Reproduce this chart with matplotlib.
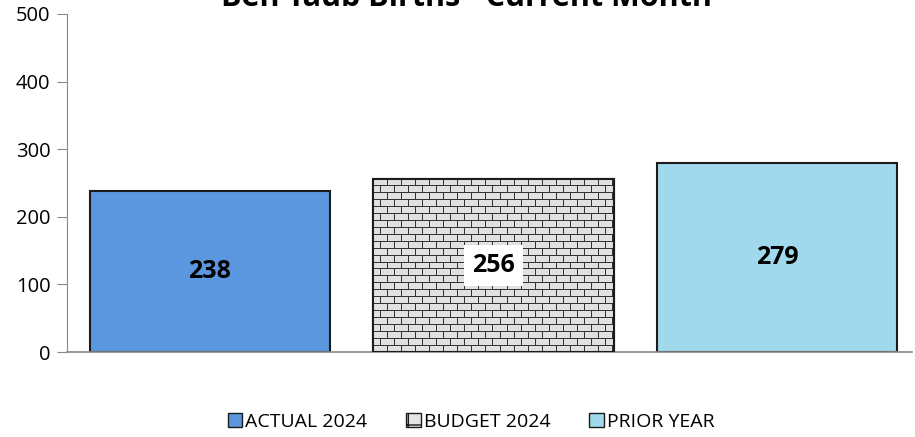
import numpy as np
import matplotlib
matplotlib.use('Agg')
import matplotlib.pyplot as plt
from matplotlib.patches import Patch

plt.rcParams['font.family'] = ['Open Sans', 'DejaVu Sans']

categorias = ['ACTUAL 2024', 'BUDGET 2024', 'PRIOR YEAR']
valores = [238, 256, 279]
colores = ['#5B97DF', '#E4E4E4', '#A0D9EB']
titulo = 'Ben Taub Births - Current Month'

fig = plt.figure(figsize=(9.15, 4.37), dpi=100)
ax = fig.add_axes([0.0732, 0.1945, 0.9238, 0.7735])

x = np.arange(len(valores))
ancho = 0.847
barras = ax.bar(x, valores, width=ancho, color=colores, edgecolor='#1b1b1b', linewidth=1.5, zorder=2)

# textura de ladrillo para la barra de presupuesto
b = barras[1]
ancho_px, alto_px = 240, 175
tex = np.full((alto_px, ancho_px), 0.88)
fila = 7
for r in range(alto_px):
	if r % fila == 0:
		tex[r, :] = 0.2
	else:
		desp = 0 if (r // fila) % 2 == 0 else 7
		for c in range(ancho_px):
			if (c + desp) % 14 == 0:
				tex[r, c] = 0.2
img = ax.imshow(tex, cmap='gray', vmin=0, vmax=1, aspect='auto', interpolation='nearest',
	extent=(b.get_x(), b.get_x() + b.get_width(), 0, b.get_height()), zorder=2.5)
img.set_clip_path(b)
ax.bar(x[1], valores[1], width=ancho, color='none', edgecolor='#1b1b1b', linewidth=1.5, zorder=3)

for i, v in enumerate(valores):
	caja = dict(facecolor='white', edgecolor='none', pad=6) if i == 1 else None
	ax.text(x[i], v / 2, str(v), ha='center', va='center',
		fontsize=18, fontweight='bold', color='black', bbox=caja, zorder=4)

ax.set_xlim(-0.504, 2.476)
ax.set_ylim(0, 500)
ax.set_yticks([0, 100, 200, 300, 400, 500])
ax.set_xticks([])
ax.tick_params(axis='y', labelsize=14.5, length=7, color='#888888', pad=5)
for lado in ['top', 'right']:
	ax.spines[lado].set_visible(False)
ax.spines['left'].set_color('#888888')
ax.spines['bottom'].set_color('#888888')
ax.spines['bottom'].set_linewidth(1.2)

fig.text(0.51, 1 - 6 / 437, titulo, ha='center', va='baseline', fontsize=22, fontweight='bold')

manijas = [
	Patch(facecolor=colores[0], edgecolor='#1b1b1b', label=categorias[0]),
	Patch(facecolor=colores[1], edgecolor='#1b1b1b', hatch='+', label=categorias[1]),
	Patch(facecolor=colores[2], edgecolor='#1b1b1b', label=categorias[2]),
]
fig.legend(handles=manijas, loc='center', bbox_to_anchor=(0.515, 0.034), ncol=3, frameon=False,
	fontsize=14, handlelength=0.75, handleheight=0.75, handletextpad=0.15, columnspacing=2.0)

fig.savefig('out.png', dpi=100)
plt.close()
